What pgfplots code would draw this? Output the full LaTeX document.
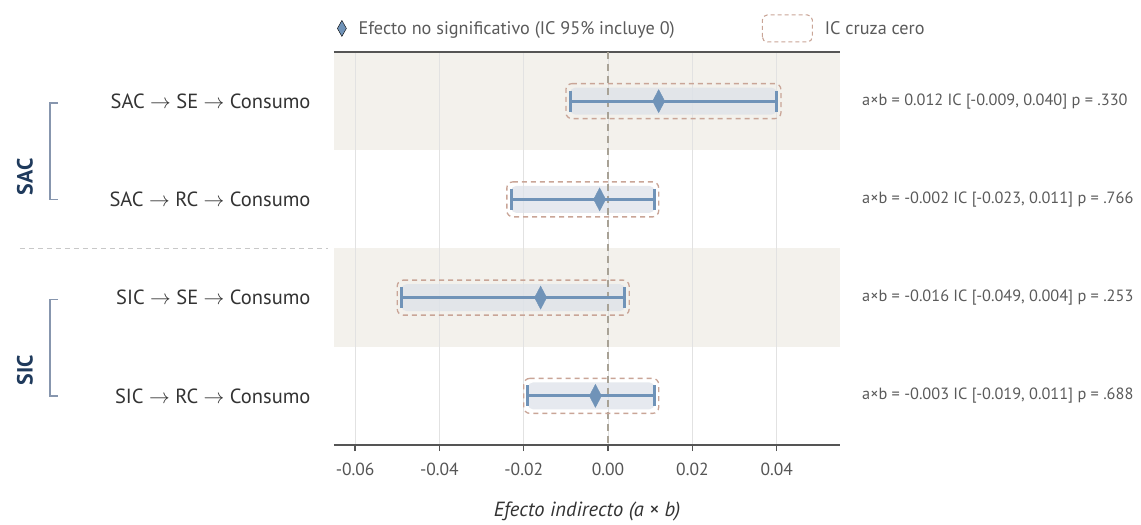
\documentclass[border=0pt]{standalone}
\usepackage{pgfplots}
\pgfplotsset{compat=1.18}
\usepackage{pgfplotstable}
\usepackage{fontspec}
\setmainfont{PT Sans}
\definecolor{band}{HTML}{F3F1EC}
\definecolor{cibox}{HTML}{DDE2E9}
\definecolor{boxc}{HTML}{C9A597}
\definecolor{bar}{HTML}{7093B8}
\definecolor{zeroc}{HTML}{A8A296}
\definecolor{gridc}{HTML}{E2E2E2}
\definecolor{axc}{HTML}{555555}
\definecolor{txt}{HTML}{333333}
\definecolor{annot}{HTML}{5A5A5A}
\definecolor{navy}{HTML}{1F3A5C}
\definecolor{brk}{HTML}{8796AE}
\definecolor{sepc}{HTML}{C8C8C8}

\pgfplotstableread{
y est lo hi
1 0.012 -0.009 0.040
2 -0.002 -0.023 0.011
3 -0.016 -0.049 0.004
4 -0.003 -0.019 0.011
}\data

\begin{document}
\begin{tikzpicture}
\begin{axis}[
  at={(0,0)}, anchor=south west,
  set layers, clip=false,
  scale only axis, width=506pt, height=393pt,
  xmin=-0.065, xmax=0.055,
  ymin=0.5, ymax=4.5, y dir=reverse,
  xtick={-0.06,-0.04,-0.02,0,0.02,0.04},
  scaled x ticks=false,
  ytick={1,2,3,4},
  yticklabels={{SAC $\rightarrow$ SE $\rightarrow$ Consumo},{SAC $\rightarrow$ RC $\rightarrow$ Consumo},{SIC $\rightarrow$ SE $\rightarrow$ Consumo},{SIC $\rightarrow$ RC $\rightarrow$ Consumo}},
  xmajorgrids, major grid style={gridc, line width=0.9pt},
  separate axis lines,
  every outer x axis line/.append style={draw=axc, line width=1.5pt},
  every outer y axis line/.append style={draw=none},
  xtick pos=bottom, xtick align=outside, major tick length=6pt,
  x tick style={draw=axc, line width=1.2pt},
  ytick style={draw=none},
  xticklabel style={font=\fontsize{17.5}{20}\selectfont, text=axc, yshift=-9pt},
  x tick label style={/pgf/number format/fixed, /pgf/number format/fixed zerofill, /pgf/number format/precision=2, /pgf/number format/assume math mode=true},
  yticklabel style={font=\fontsize{20.5}{24}\selectfont, text=txt, xshift=-20pt},
  xlabel={Efecto indirecto (a × b)},
  xlabel style={font=\fontsize{20.5}{24}\selectfont\itshape, text=txt, yshift=-19pt},
  legend style={at={(0,1.06)}, anchor=west, draw=none, fill=none, legend columns=2,
    font=\fontsize{18.2}{22}\selectfont, text=annot,
    /tikz/every odd column/.append style={column sep=10pt},
    /tikz/every even column/.append style={column sep=85pt}},
]
% background bands
\addplot[on layer=axis background, draw=none, fill=band, forget plot] coordinates {(-0.065,0.5) (0.055,0.5) (0.055,1.5) (-0.065,1.5)} -- cycle;
\addplot[on layer=axis background, draw=none, fill=band, forget plot] coordinates {(-0.065,2.5) (0.055,2.5) (0.055,3.5) (-0.065,3.5)} -- cycle;
% CI shaded boxes
\addplot[draw=none, fill=cibox, fill opacity=0.75, rounded corners=5pt, forget plot] coordinates {(-0.009,0.863) (0.040,0.863) (0.040,1.137) (-0.009,1.137)} -- cycle;
\addplot[draw=none, fill=cibox, fill opacity=0.75, rounded corners=5pt, forget plot] coordinates {(-0.023,1.863) (0.011,1.863) (0.011,2.137) (-0.023,2.137)} -- cycle;
\addplot[draw=none, fill=cibox, fill opacity=0.75, rounded corners=5pt, forget plot] coordinates {(-0.049,2.863) (0.004,2.863) (0.004,3.137) (-0.049,3.137)} -- cycle;
\addplot[draw=none, fill=cibox, fill opacity=0.75, rounded corners=5pt, forget plot] coordinates {(-0.019,3.863) (0.011,3.863) (0.011,4.137) (-0.019,4.137)} -- cycle;
% zero line
\addplot[zeroc, line width=2pt, dash pattern=on 7pt off 5pt, forget plot] coordinates {(0,0.5) (0,4.5)};
% dashed boxes
\addplot[boxc, line width=1.3pt, dash pattern=on 5pt off 4pt, rounded corners=6pt, forget plot] coordinates {(-0.010,0.822) (0.041,0.822) (0.041,1.178) (-0.010,1.178)} -- cycle;
\addplot[boxc, line width=1.3pt, dash pattern=on 5pt off 4pt, rounded corners=6pt, forget plot] coordinates {(-0.024,1.822) (0.012,1.822) (0.012,2.178) (-0.024,2.178)} -- cycle;
\addplot[boxc, line width=1.3pt, dash pattern=on 5pt off 4pt, rounded corners=6pt, forget plot] coordinates {(-0.050,2.822) (0.005,2.822) (0.005,3.178) (-0.050,3.178)} -- cycle;
\addplot[boxc, line width=1.3pt, dash pattern=on 5pt off 4pt, rounded corners=6pt, forget plot] coordinates {(-0.020,3.822) (0.012,3.822) (0.012,4.178) (-0.020,4.178)} -- cycle;
% CI lines with caps
\addplot[bar, line width=3pt, mark=|, mark size=10.5pt, mark options={line width=3pt}, forget plot] coordinates {(-0.009,1) (0.040,1)};
\addplot[bar, line width=3pt, mark=|, mark size=10.5pt, mark options={line width=3pt}, forget plot] coordinates {(-0.023,2) (0.011,2)};
\addplot[bar, line width=3pt, mark=|, mark size=10.5pt, mark options={line width=3pt}, forget plot] coordinates {(-0.049,3) (0.004,3)};
\addplot[bar, line width=3pt, mark=|, mark size=10.5pt, mark options={line width=3pt}, forget plot] coordinates {(-0.019,4) (0.011,4)};
% estimates
\addplot[only marks, mark=diamond*, mark size=11.5pt, mark options={xscale=0.7, fill=bar, draw=bar}, forget plot] table[x=est, y=y] {\data};
% legend
\addlegendimage{legend image code/.code={\path[fill=bar] (4.5pt,8pt) -- (9pt,0pt) -- (4.5pt,-8pt) -- (0pt,0pt) -- cycle;}}
\addlegendentry{Efecto no significativo (IC 95\% incluye 0)}
\addlegendimage{legend image code/.code={\draw[boxc, line width=1.1pt, dash pattern=on 4pt off 3pt, rounded corners=5pt] (0pt,-13.5pt) rectangle (50pt,13.5pt);}}
\addlegendentry{IC cruza cero}
% annotations
\node[anchor=west, inner sep=0pt, font=\fontsize{16.3}{19}\selectfont, text=annot] at (axis cs:0.055,1) [xshift=22pt] {a×b = 0.012 IC [-0.009, 0.040] p = .330};
\node[anchor=west, inner sep=0pt, font=\fontsize{16.3}{19}\selectfont, text=annot] at (axis cs:0.055,2) [xshift=22pt] {a×b = -0.002 IC [-0.023, 0.011] p = .766};
\node[anchor=west, inner sep=0pt, font=\fontsize{16.3}{19}\selectfont, text=annot] at (axis cs:0.055,3) [xshift=22pt] {a×b = -0.016 IC [-0.049, 0.004] p = .253};
\node[anchor=west, inner sep=0pt, font=\fontsize{16.3}{19}\selectfont, text=annot] at (axis cs:0.055,4) [xshift=22pt] {a×b = -0.003 IC [-0.019, 0.011] p = .688};
% group brackets and labels
\draw[brk, line width=1.6pt] (axis cs:-0.13045,1.02) -- (axis cs:-0.13235,1.02) -- (axis cs:-0.13235,2) -- (axis cs:-0.13045,2);
\draw[brk, line width=1.6pt] (axis cs:-0.13045,3.02) -- (axis cs:-0.13235,3.02) -- (axis cs:-0.13235,4) -- (axis cs:-0.13045,4);
\node[rotate=90, font=\fontsize{22}{26}\selectfont\bfseries, text=navy] at (axis cs:-0.13828,1.772) {SAC};
\node[rotate=90, font=\fontsize{22}{26}\selectfont\bfseries, text=navy] at (axis cs:-0.13828,3.737) {SIC};
\draw[sepc, line width=1pt, dash pattern=on 5pt off 4pt] (axis cs:-0.1395,2.505) -- (axis cs:-0.0664,2.505);
\end{axis}
\path (-334pt,-75pt) rectangle (807pt,445pt);
\end{tikzpicture}
\end{document}
